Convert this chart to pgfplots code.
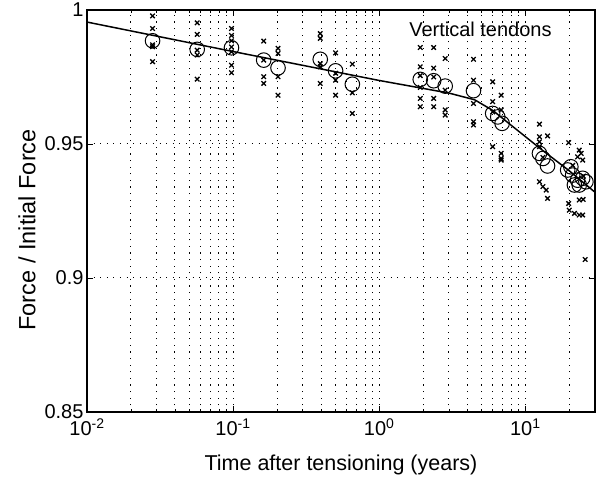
\documentclass[border=0pt]{standalone}
\usepackage{fontspec}
\setmainfont{Liberation Sans}
\usepackage{pgfplots}
\pgfplotsset{compat=1.18}

\begin{document}
\begin{tikzpicture}
\begin{axis}[
  scale only axis,
  width=508pt, height=402pt,
  xmode=log,
  xmin=0.01, xmax=30,
  ymin=0.85, ymax=1,
  xtick={0.01,0.1,1,10},
  xticklabels={10\textsuperscript{-2},10\textsuperscript{-1},10\textsuperscript{0},10\textsuperscript{1}},
  minor xtick={0.02,0.03,0.04,0.05,0.06,0.07,0.08,0.09,0.2,0.3,0.4,0.5,0.6,0.7,0.8,0.9,2,3,4,5,6,7,8,9,20},
  ytick={0.85,0.9,0.95,1},
  yticklabels={0.85,0.9,0.95,1},
  tick align=inside,
  major tick length=6pt,
  minor tick length=3pt,
  tick style={black, line width=0.8pt},
  axis line style={line width=1.2pt},
  xmajorgrids, xminorgrids, ymajorgrids,
  major grid style={black, line width=1pt, dash pattern=on 1.1pt off 5.5pt},
  minor grid style={black, line width=1pt, dash pattern=on 1.1pt off 5.5pt},
  ticklabel style={font=\fontsize{20}{24}\selectfont},
  xticklabel style={yshift=-3pt},
  xlabel style={font=\fontsize{21.5}{25}\selectfont, yshift=-12pt},
  ylabel style={font=\fontsize{23.5}{27}\selectfont, at={(ticklabel cs:0.453)}, yshift=2pt},
  xlabel={Time after tensioning (years)},
  ylabel={Force / Initial Force},
  clip=false,
]
% individual measurements
\addplot[only marks, mark=x, mark size=3.2pt, line width=1.3pt] coordinates {
  (0.0281,0.9978) (0.0281,0.9931) (0.0281,0.9863) (0.0281,0.9807) (0.0281,0.9870)
  (0.0568,0.9952) (0.0568,0.9909) (0.0568,0.9832) (0.0568,0.9742) (0.0568,0.9850)
  (0.0975,0.9931) (0.0975,0.9885) (0.0975,0.9844) (0.0975,0.9794) (0.0975,0.9766) (0.0975,0.9905) (0.0975,0.9862)
  (0.162,0.9884) (0.162,0.9751) (0.162,0.9726) (0.162,0.9813)
  (0.203,0.9857) (0.203,0.9838) (0.203,0.9751) (0.203,0.9682)
  (0.395,0.9912) (0.395,0.9894) (0.395,0.9788) (0.395,0.9726) (0.395,0.9800)
  (0.503,0.9840) (0.503,0.9764) (0.503,0.9738) (0.503,0.9682)
  (0.655,0.9798) (0.655,0.9691) (0.655,0.9614)
  (1.91,0.9860) (1.91,0.9788) (1.91,0.9711) (1.91,0.9670) (1.91,0.9639) (1.91,0.9755)
  (2.36,0.9860) (2.36,0.9783) (2.36,0.9670) (2.36,0.9639) (2.36,0.9750)
  (2.83,0.9819) (2.83,0.9701) (2.83,0.9627) (2.83,0.9608)
  (4.42,0.9816) (4.42,0.9738) (4.42,0.9651) (4.42,0.9583) (4.42,0.9571)
  (5.98,0.9732) (5.98,0.9658) (5.98,0.9490) (5.98,0.9620)
  (6.84,0.9682) (6.84,0.9627) (6.84,0.9465) (6.84,0.9446) (6.84,0.9440)
  (12.5,0.9574) (12.5,0.9527) (12.5,0.9508) (12.5,0.9490) (12.5,0.9359)
  (13.2,0.9341) (13.2,0.9450) (13.9,0.9328) (14.2,0.9530) (14.2,0.9297)
  (19.8,0.9505) (19.8,0.9278) (20.0,0.9253) (21.7,0.9241)
  (23.4,0.9477) (23.4,0.9235) (22.8,0.9452) (24.7,0.9440) (24.7,0.9235)
  (24.1,0.9465) (23.4,0.9291) (24.9,0.9293) (25.7,0.9069)
  (21.1,0.9420) (25.0,0.9380)
};
% mean values
\addplot[only marks, mark=o, mark size=7.3pt, line width=1pt] coordinates {
  (0.0281,0.9885) (0.0568,0.9853) (0.0975,0.9859) (0.162,0.9813) (0.203,0.9784)
  (0.395,0.9816) (0.503,0.9773) (0.655,0.9723)
  (1.91,0.9741) (2.36,0.9736) (2.83,0.9716) (4.42,0.9699)
  (5.98,0.9614) (6.48,0.9601) (6.94,0.9577)
  (12.5,0.9465) (13.2,0.9446) (14.2,0.9418)
  (19.5,0.9403) (20.5,0.9415) (21.1,0.9384) (21.7,0.9347) (22.8,0.9365)
  (24.7,0.9372) (23.4,0.9347) (26.0,0.9359)
};
% fitted curve
\addplot[black, line width=1.5pt] coordinates {
  (0.01,0.9955) (0.1,0.9845) (1,0.9737) (3,0.9690) (4.5,0.9665)
  (6,0.9625) (8,0.9570) (13,0.9478) (20,0.9400) (30,0.9320)
};
\node[font=\fontsize{20}{24}\selectfont] at (axis cs:4.93,0.9929) {Vertical tendons};
\coordinate (bl) at (rel axis cs:0,0);
\end{axis}
\pgfresetboundingbox
\path (bl) ++(-87pt,-69pt) rectangle ++(603pt,481pt);
\end{tikzpicture}
\end{document}
